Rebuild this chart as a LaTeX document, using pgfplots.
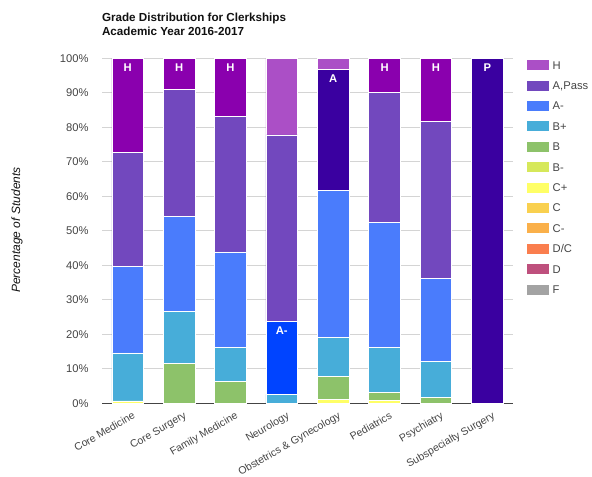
\documentclass[border=0pt]{standalone}
\usepackage{fontspec}
\setmainfont{Liberation Sans}
\usepackage{pgfplots}
\usepackage{pgfplotstable}
\pgfplotsset{compat=1.18}
\definecolor{cH}{HTML}{AB4FC6}
\definecolor{cHh}{HTML}{8A00AE}
\definecolor{cAP}{HTML}{7248BE}
\definecolor{cAPh}{HTML}{3A00A0}
\definecolor{cAm}{HTML}{4A7CFC}
\definecolor{cAmh}{HTML}{0044FF}
\definecolor{cBp}{HTML}{47ADD9}
\definecolor{cB}{HTML}{8DC26A}
\definecolor{cBm}{HTML}{D6E85A}
\definecolor{cCp}{HTML}{FFFF66}
\definecolor{cC}{HTML}{F9D04F}
\definecolor{cCm}{HTML}{FAB04A}
\definecolor{cDC}{HTML}{FA7E4E}
\definecolor{cD}{HTML}{BE507D}
\definecolor{cF}{HTML}{A3A3A3}
\definecolor{gridgray}{HTML}{D4D4D4}
\definecolor{ticktext}{HTML}{444444}
\definecolor{axisgray}{HTML}{444444}
\definecolor{titletext}{HTML}{111111}
\newcommand\lbox[1]{\addlegendimage{legend image code/.code={\fill[#1] (0pt,-2.95pt) rectangle (15.75pt,3.8pt);}}}
\pgfplotstableread{
x Cp B Bp Am Amh AP APh H Hh LAmh LAPh LHh
0 0.7 0 13.9 25.0 0 33.2 0 0 27.2 {} {} H
1 0 11.6 15.1 27.4 0 36.9 0 0 9.0 {} {} H
2 0 6.4 9.8 27.7 0 39.2 0 0 16.9 {} {} H
3 0 0 2.6 0 21.1 54.1 0 22.2 0 A- {} {}
4 1.2 6.7 11.2 42.5 0 0 35.2 3.2 0 {} A {}
5 0.8 2.3 13.1 36.3 0 37.6 0 0 9.9 {} {} H
6 0 1.8 10.3 24.1 0 45.4 0 0 18.4 {} {} H
7 0 0 0 0 0 0 100 0 0 {} P {}
}\grades
\begin{document}
\begin{tikzpicture}
\useasboundingbox (0,0) rectangle (444pt,357pt);
\node[anchor=base west, inner sep=0pt, text=titletext, font=\bfseries\fontsize{8.75}{10}\selectfont] at (76.3pt,341.2pt) {Grade Distribution for Clerkships};
\node[anchor=base west, inner sep=0pt, text=titletext, font=\bfseries\fontsize{8.75}{10}\selectfont] at (76.3pt,330.2pt) {Academic Year 2016-2017};
\node[rotate=90, inner sep=0pt, text=titletext, font=\itshape\fontsize{9}{10}\selectfont] at (12.75pt,184.5pt) {Percentage of Students};
\begin{axis}[
  at={(76.5pt,54.5pt)}, anchor=south west,
  width=308.25pt, height=258.75pt, scale only axis,
  xmin=-0.5, xmax=7.5, ymin=0, ymax=100,
  ybar stacked, bar width=0.617,
  axis line style={draw=none},
  major tick length=0pt,
  ytick={0,10,...,100},
  ymajorgrids, grid style={color=gridgray, line width=0.75pt},
  yticklabel={\pgfmathprintnumber{\tick}\%},
  /pgf/number format/assume math mode=true,
  tick label style={color=ticktext, font=\fontsize{8.4}{10}\selectfont},
  yticklabel style={xshift=-6.5pt},
  xtick={0,...,7},
  xticklabels={Core Medicine, Core Surgery, Family Medicine, Neurology, Obstetrics \& Gynecology, Pediatrics, Psychiatry, Subspecialty Surgery},
  xticklabel style={rotate=30, anchor=north east, inner sep=0pt, yshift=-6.5pt, xshift=0pt, font=\fontsize{7.9}{10}\selectfont},
  every axis plot/.append style={draw=white, line width=0.5pt},
  legend style={at={(1,1)}, anchor=north west, xshift=10.25pt, yshift=-1.45pt, draw=none, fill=none, inner sep=0pt, outer sep=0pt, font=\fontsize{8.4}{10}\selectfont, text=ticktext, row sep=7.25pt, nodes={inner sep=0pt, text height=6.5pt, text depth=1.5pt}, /tikz/every odd column/.append style={column sep=3.3pt}},
  legend cell align=left,
  lab/.style={point meta=explicit symbolic, visualization depends on={\thisrow{#1}\as\segh}, nodes near coords={\pgfplotspointmeta}, nodes near coords style={shift={(axis direction cs:0,\segh/2)}, anchor=north, inner sep=0pt, yshift=-3.75pt, text=white, font=\bfseries\fontsize{8.4}{10}\selectfont}},
]
\addplot[fill=cCp, forget plot] table[x=x,y=Cp]{\grades};
\addplot[fill=cB, forget plot] table[x=x,y=B]{\grades};
\addplot[fill=cBp, forget plot] table[x=x,y=Bp]{\grades};
\addplot[fill=cAm, forget plot] table[x=x,y=Am]{\grades};
\addplot[fill=cAmh, forget plot, lab=Amh] table[x=x,y=Amh,meta=LAmh]{\grades};
\addplot[fill=cAP, forget plot] table[x=x,y=AP]{\grades};
\addplot[fill=cAPh, forget plot, lab=APh] table[x=x,y=APh,meta=LAPh]{\grades};
\addplot[fill=cH, forget plot] table[x=x,y=H]{\grades};
\addplot[fill=cHh, forget plot, lab=Hh] table[x=x,y=Hh,meta=LHh]{\grades};
\draw[color=axisgray, line width=0.75pt] (rel axis cs:0,0) -- (rel axis cs:1,0);
\lbox{cH}\addlegendentry{H}
\lbox{cAP}\addlegendentry{A,Pass}
\lbox{cAm}\addlegendentry{A-}
\lbox{cBp}\addlegendentry{B+}
\lbox{cB}\addlegendentry{B}
\lbox{cBm}\addlegendentry{B-}
\lbox{cCp}\addlegendentry{C+}
\lbox{cC}\addlegendentry{C}
\lbox{cCm}\addlegendentry{C-}
\lbox{cDC}\addlegendentry{D/C}
\lbox{cD}\addlegendentry{D}
\lbox{cF}\addlegendentry{F}
\end{axis}
\end{tikzpicture}
\end{document}
